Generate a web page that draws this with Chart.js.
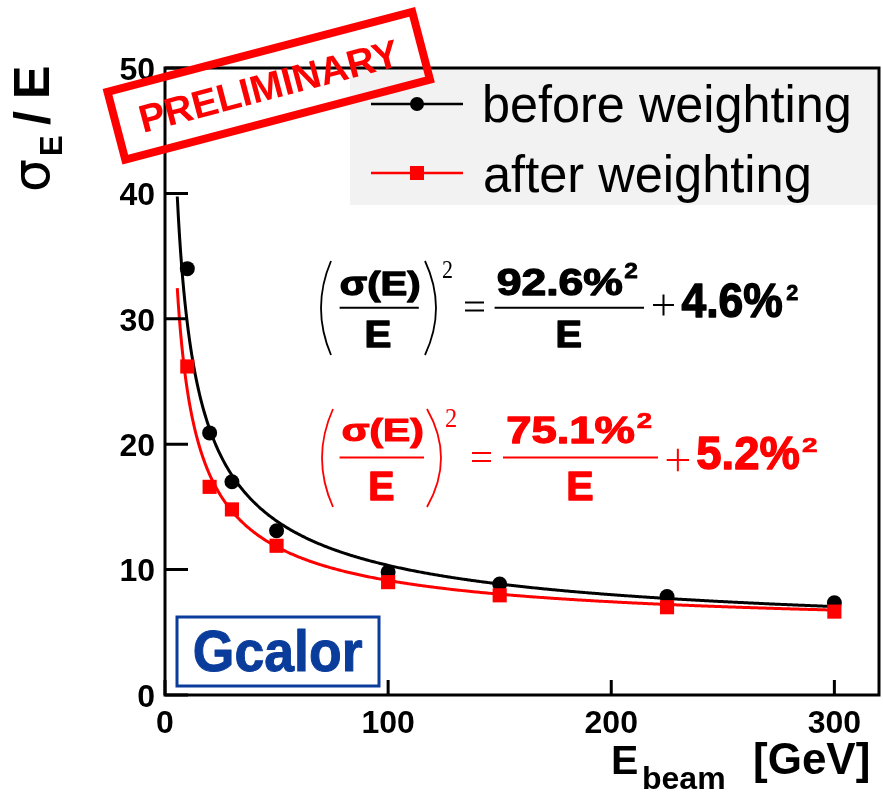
<!DOCTYPE html>
<html>
<head>
<meta charset="utf-8">
<script src="https://cdn.jsdelivr.net/npm/chart.js@4/dist/chart.umd.min.js"></script>
<style>
  html, body { margin: 0; padding: 0; background: #ffffff; }
  #wrap { width: 883px; height: 794px; }
</style>
</head>
<body>
<div id="wrap"><canvas id="chart" width="883" height="794"></canvas></div>
<script>
// Beam energies [GeV] and measured relative resolution sigma_E / E [%]
const beamEnergies      = [10, 20, 30, 50, 100, 150, 225, 300];
const resolutionBefore  = [34.0, 20.9, 17.0, 13.1, 9.8, 8.85, 7.85, 7.35];
const resolutionAfter   = [26.2, 16.6, 14.8, 11.9, 9.0, 7.95, 7.0, 6.65];

// Fit parameters printed in the panel: (sigma/E)^2 = a^2/E + c^2   [before, after]
const fitStochastic = [92.6, 75.1];
const fitConstant   = [4.6, 5.2];
const fitEnergyRange = [5.5, 300];

// Axis ticks
const xTickValues = [0, 100, 200, 300];
const yTickValues = [0, 10, 20, 30, 40, 50];

const seriesNames = ['before weighting', 'after weighting'];

function fitCurve(k) {
  const pts = [];
  const a2 = fitStochastic[k] * fitStochastic[k];
  const c2 = fitConstant[k] * fitConstant[k];
  for (let e = fitEnergyRange[0]; e <= fitEnergyRange[1] + 1e-9; e += 0.5) {
    pts.push({ x: e, y: Math.sqrt(a2 / e + c2) });
  }
  return pts;
}

const pointsOf = vals => beamEnergies.map((e, i) => ({ x: e, y: vals[i] }));

const RED = '#ff0000';
const BLACK = '#000000';
const BLUE = '#0a3d9b';

// Text helper: stretch a string so that its ink box fills [x0,x1] x [top,bottom]
function drawBox(ctx, text, x0, x1, top, bottom, font, color, stroke) {
  ctx.save();
  ctx.font = font;
  ctx.fillStyle = color;
  ctx.strokeStyle = color;
  ctx.textAlign = 'left';
  ctx.textBaseline = 'alphabetic';
  ctx.lineJoin = 'round';
  const m = ctx.measureText(text);
  const w = m.actualBoundingBoxLeft + m.actualBoundingBoxRight;
  const h = m.actualBoundingBoxAscent + m.actualBoundingBoxDescent;
  const sx = (x1 - x0) / w;
  const sy = (bottom - top) / h;
  ctx.translate(x0, top);
  ctx.scale(sx, sy);
  ctx.fillText(text, m.actualBoundingBoxLeft, m.actualBoundingBoxAscent);
  if (stroke) {
    ctx.lineWidth = stroke * 2 / (sx + sy);
    ctx.strokeText(text, m.actualBoundingBoxLeft, m.actualBoundingBoxAscent);
  }
  ctx.restore();
}

function hline(ctx, x0, x1, y, w, color) {
  ctx.save();
  ctx.strokeStyle = color; ctx.lineWidth = w;
  ctx.beginPath(); ctx.moveTo(x0, y); ctx.lineTo(x1, y); ctx.stroke();
  ctx.restore();
}

function paren(ctx, xEnd, xMid, y0, y1, color) {
  ctx.save();
  ctx.strokeStyle = color; ctx.lineWidth = 1.8;
  ctx.beginPath();
  ctx.moveTo(xEnd, y0);
  ctx.quadraticCurveTo(2 * xMid - xEnd, (y0 + y1) / 2, xEnd, y1);
  ctx.stroke();
  ctx.restore();
}

function plusSign(ctx, x0, x1, yc, color) {
  const h = (x1 - x0) / 2;
  ctx.save();
  ctx.strokeStyle = color; ctx.lineWidth = 2;
  ctx.beginPath();
  ctx.moveTo(x0, yc); ctx.lineTo(x1, yc);
  ctx.moveTo((x0 + x1) / 2, yc - h); ctx.lineTo((x0 + x1) / 2, yc + h);
  ctx.stroke();
  ctx.restore();
}

// Resolution formula block
function drawFormula(ctx, k, g, color) {
  const B = 'bold 100px "Liberation Sans"';
  const S = '100px "Liberation Serif"';
  paren(ctx, g.lp[0], g.lp[1], g.lp[2], g.lp[3], color);
  paren(ctx, g.rp[0], g.rp[1], g.rp[2], g.rp[3], color);
  drawBox(ctx, 'σ(E)', ...g.sig, B, color, 1.4);
  hline(ctx, g.f1[0], g.f1[1], g.f1[2], 2, color);
  drawBox(ctx, 'E', ...g.e1, B, color, 1.4);
  drawBox(ctx, '2', ...g.s1, S, color);
  hline(ctx, g.eq[0], g.eq[1], g.eq[2], 2, color);
  hline(ctx, g.eq[0], g.eq[1], g.eq[3], 2, color);
  drawBox(ctx, fitStochastic[k].toFixed(1) + '%', ...g.num, B, color, 1.4);
  drawBox(ctx, '2', ...g.s2, B, color, 0.8);
  hline(ctx, g.f2[0], g.f2[1], g.f2[2], 2, color);
  drawBox(ctx, 'E', ...g.e2, B, color, 1.4);
  plusSign(ctx, g.pl[0], g.pl[1], g.pl[2], color);
  drawBox(ctx, fitConstant[k].toFixed(1) + '%', ...g.con, B, color, 1.4);
  drawBox(ctx, '2', ...g.s3, B, color, 0.8);
}

const formulaLayout = [
  { lp: [331, 321, 261, 355], rp: [425, 436, 261, 355],
    sig: [341, 419, 270, 302], f1: [339.6, 418.8, 307.8], e1: [367, 390, 321, 347],
    s1: [443, 452, 261, 278], eq: [465, 484, 302.5, 310.5],
    num: [498, 622, 269, 295], s2: [625, 637, 262, 278], f2: [494.6, 644, 307.8],
    e2: [558, 580.6, 321, 347], pl: [653, 674, 305],
    con: [682, 782, 283, 317.5], s3: [787, 797.6, 285, 300] },
  { lp: [333, 322, 409, 507], rp: [427, 441, 409, 507],
    sig: [343, 422, 418, 447], f1: [339.6, 424, 457.6], e1: [370.6, 393, 471.4, 500],
    s1: [446, 456, 408.7, 427.7], eq: [472, 491, 453, 461],
    num: [508, 634, 417, 443], s2: [637.5, 651, 412, 427.7], f2: [503, 658, 457.6],
    e2: [568.6, 592, 471.4, 500], pl: [666.7, 689, 460],
    con: [697.7, 799, 436, 469], s3: [802.8, 816.5, 438, 451.8] }
];

const decorations = {
  id: 'decorations',
  beforeDatasetsDraw(chart) {
    const ctx = chart.ctx;
    const a = chart.chartArea;
    // legend panel
    ctx.save();
    ctx.fillStyle = '#f2f2f2';
    ctx.fillRect(350, a.top, a.right - 350, 205 - a.top);
    ctx.restore();
  },
  afterDatasetsDraw(chart) {
    const ctx = chart.ctx;
    const a = chart.chartArea;
    const xs = chart.scales.x, ys = chart.scales.y;

    // frame
    ctx.save();
    ctx.strokeStyle = BLACK;
    ctx.lineWidth = 3;
    ctx.strokeRect(a.left, a.top, a.right - a.left, a.bottom - a.top);
    // inward tick marks
    ctx.beginPath();
    yTickValues.forEach(v => {
      const y = ys.getPixelForValue(v);
      ctx.moveTo(a.left, y); ctx.lineTo(a.left + 23, y);
    });
    xTickValues.forEach(v => {
      const x = xs.getPixelForValue(v);
      ctx.moveTo(x, a.bottom); ctx.lineTo(x, a.bottom - 15);
    });
    ctx.stroke();
    ctx.restore();

    // legend entries
    const rows = [104, 173];
    const styles = [{ c: BLACK, s: 'circle' }, { c: RED, s: 'rect' }];
    rows.forEach((y, i) => {
      hline(ctx, 371, 463, y, 2.5, styles[i].c);
      ctx.save();
      ctx.fillStyle = styles[i].c;
      if (styles[i].s === 'circle') {
        ctx.beginPath(); ctx.arc(417, y, 7, 0, Math.PI * 2); ctx.fill();
      } else {
        ctx.fillRect(410, y - 7, 14, 14);
      }
      ctx.restore();
    });
    const LF = '100px "Liberation Sans"';
    drawBox(ctx, seriesNames[0], 485, 849, 84, 133, LF, BLACK);
    drawBox(ctx, seriesNames[1], 485, 809, 153.5, 202.5, LF, BLACK);

    // formulas
    drawFormula(ctx, 0, formulaLayout[0], BLACK);
    drawFormula(ctx, 1, formulaLayout[1], RED);

    // Gcalor label
    ctx.save();
    ctx.strokeStyle = BLUE; ctx.lineWidth = 3;
    ctx.strokeRect(177, 617, 202, 69);
    ctx.restore();
    drawBox(ctx, 'Gcalor', 195, 362, 630, 672, 'bold 100px "Liberation Sans"', BLUE, 1);

    // y axis title
    ctx.save();
    ctx.translate(49, 192);
    ctx.rotate(-Math.PI / 2);
    ctx.fillStyle = BLACK;
    ctx.textBaseline = 'alphabetic';
    ctx.font = '52px "DejaVu Sans"';
    ctx.fillText('σ', 0, 0);
    ctx.font = 'bold 31px "Liberation Sans"';
    ctx.fillText('E', 36, 13);
    ctx.font = 'bold 50px "Liberation Sans"';
    ctx.fillText('/', 67, 0);
    ctx.fillText('E', 93, 0);
    ctx.restore();

    // x axis title
    ctx.save();
    ctx.fillStyle = BLACK;
    ctx.textBaseline = 'alphabetic';
    ctx.font = 'bold 41px "Liberation Sans"';
    ctx.fillText('E', 611, 774);
    ctx.font = 'bold 32px "Liberation Sans"';
    ctx.fillText('beam', 642, 789);
    ctx.font = 'bold 44px "Liberation Sans"';
    ctx.fillText('[GeV]', 753, 774);
    ctx.restore();

    // PRELIMINARY stamp
    ctx.save();
    ctx.translate(268.75, 85.75);
    ctx.rotate(-14.7 * Math.PI / 180);
    ctx.strokeStyle = RED;
    ctx.lineWidth = 8;
    ctx.strokeRect(-157.5, -35, 315, 70);
    ctx.fillStyle = RED;
    ctx.font = 'bold 39px "Liberation Sans"';
    ctx.textAlign = 'center';
    ctx.textBaseline = 'middle';
    ctx.fillText('PRELIMINARY', 0, 3);
    ctx.restore();
  }
};

const tickFont = { family: '"Liberation Sans"', size: 32, weight: 'bold' };

new Chart(document.getElementById('chart'), {
  type: 'scatter',
  data: {
    datasets: [
      { label: seriesNames[1], data: pointsOf(resolutionAfter), order: 0,
        pointStyle: 'rect', pointRadius: 10, pointHoverRadius: 10,
        backgroundColor: RED, borderColor: RED, borderWidth: 0, showLine: false },
      { label: seriesNames[0], data: pointsOf(resolutionBefore), order: 1,
        pointStyle: 'circle', pointRadius: 7.5, pointHoverRadius: 7.5,
        backgroundColor: BLACK, borderColor: BLACK, borderWidth: 0, showLine: false },
      { label: 'fit after', type: 'line', data: fitCurve(1), order: 2,
        borderColor: RED, borderWidth: 3, pointRadius: 0, tension: 0, fill: false },
      { label: 'fit before', type: 'line', data: fitCurve(0), order: 3,
        borderColor: BLACK, borderWidth: 3, pointRadius: 0, tension: 0, fill: false }
    ]
  },
  options: {
    responsive: false,
    animation: false,
    events: [],
    layout: { autoPadding: false, padding: { left: 0, top: 68, right: 4, bottom: 0 } },
    plugins: { legend: { display: false }, tooltip: { enabled: false } },
    scales: {
      x: {
        type: 'linear', min: 0, max: 320,
        afterBuildTicks: s => { s.ticks = xTickValues.map(v => ({ value: v })); },
        afterFit: s => { s.height = 99; },
        grid: { display: false, drawTicks: false },
        border: { display: false },
        ticks: { font: tickFont, color: BLACK, padding: 10, maxRotation: 0, autoSkip: false }
      },
      y: {
        type: 'linear', min: 0, max: 50,
        afterBuildTicks: s => { s.ticks = yTickValues.map(v => ({ value: v })); },
        afterFit: s => { s.width = 165; },
        grid: { display: false, drawTicks: false },
        border: { display: false },
        ticks: { font: tickFont, color: BLACK, padding: 10, labelOffset: 3, autoSkip: false }
      }
    }
  },
  plugins: [decorations]
});
</script>
</body>
</html>
